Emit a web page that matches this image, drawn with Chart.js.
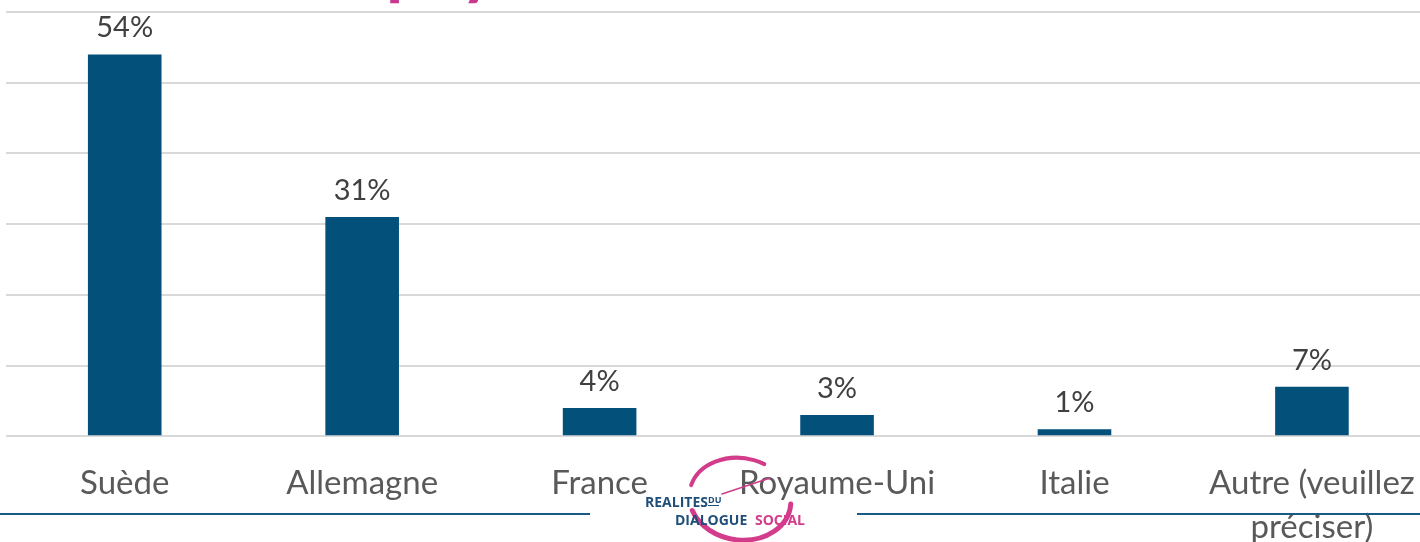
<!DOCTYPE html>
<html>
<head>
<meta charset="utf-8">
<script src="https://cdn.jsdelivr.net/npm/chart.js@4.4.1/dist/chart.umd.min.js"></script>
<style>
  html, body { margin: 0; padding: 0; background: #fff; overflow: hidden; }
  #wrap { width: 1420px; height: 542px; overflow: hidden; position: relative; }
  canvas { display: block; }
</style>
</head>
<body>
<div id="wrap"><canvas id="pays" width="1440" height="574"></canvas></div>
<script>
// donnees
const pays = ["Suède", "Allemagne", "France", "Royaume-Uni", "Italie", ["Autre (veuillez", "préciser)"]];
const pourcentages = [54, 31, 4, 3, 1, 7];
const ticksY = [0, 10, 20, 30, 40, 50, 60];

const bleu = "#03507A";
const rose = "#C9378E";

// etiquettes de valeur au dessus des barres
const etiquettes = {
  id: "etiquettes",
  afterDatasetsDraw(chart) {
    const ctx = chart.ctx;
    const meta = chart.getDatasetMeta(0);
    ctx.save();
    ctx.font = "29px Lato";
    ctx.fillStyle = "#404040";
    ctx.textAlign = "center";
    ctx.textBaseline = "alphabetic";
    meta.data.forEach(function(bar, i) {
      ctx.fillText(pourcentages[i] + "%", bar.x, bar.y - 17);
    });
    ctx.restore();
  }
};

// titre coupe en haut, ligne bleue et logo en bas
const decor = {
  id: "decor",
  afterDraw(chart) {
    const ctx = chart.ctx;
    ctx.save();
    // titre (seul le bas des lettres est visible)
    ctx.font = "bold 70px Lato";
    ctx.fillStyle = rose;
    ctx.textBaseline = "alphabetic";
    ctx.fillText("pays", 386, -9);

    // ligne bleue
    ctx.strokeStyle = "#1B5A86";
    ctx.lineWidth = 2;
    ctx.beginPath();
    ctx.moveTo(0, 514); ctx.lineTo(590, 514);
    ctx.moveTo(857, 514); ctx.lineTo(1440, 514);
    ctx.stroke();

    // logo
    ctx.strokeStyle = "#D23C8A";
    ctx.lineCap = "round";
    ctx.lineWidth = 4;
    ctx.beginPath();
    ctx.ellipse(740, 499, 51, 41, 0.15, Math.PI * 1.05, Math.PI * 1.62);
    ctx.stroke();
    ctx.lineWidth = 5;
    ctx.beginPath();
    ctx.ellipse(740, 499, 51, 41, 0.15, -Math.PI * 0.02, Math.PI * 0.85);
    ctx.stroke();
    ctx.lineWidth = 1.5;
    ctx.beginPath();
    ctx.moveTo(722, 494); ctx.lineTo(770, 478);
    ctx.stroke();

    ctx.fillStyle = "#1F4E79";
    ctx.font = "bold 14px 'Open Sans'";
    ctx.textAlign = "left";
    ctx.fillText("REALITES", 645, 507);
    ctx.font = "bold 9px 'Open Sans'";
    ctx.fillText("DU", 708, 503);
    ctx.fillRect(708, 505, 11, 1);
    ctx.font = "bold 14px 'Open Sans'";
    ctx.fillText("DIALOGUE", 675, 525);
    ctx.fillStyle = "#D23C8A";
    ctx.fillText("SOCIAL", 755, 525);
    ctx.restore();
  }
};

new Chart(document.getElementById("pays"), {
  type: "bar",
  data: {
    labels: pays,
    datasets: [{
      data: pourcentages,
      backgroundColor: bleu,
      borderWidth: 0,
      barPercentage: 0.62,
      categoryPercentage: 0.5
    }]
  },
  options: {
    responsive: false,
    animation: false,
    layout: { padding: { left: 6, right: 3, top: 12, bottom: 0 } },
    plugins: { legend: { display: false }, tooltip: { enabled: false } },
    scales: {
      x: {
        grid: { display: false, drawTicks: false },
        border: { display: false },
        ticks: {
          color: "#595959",
          font: { family: "Lato", size: 33, lineHeight: 1.33 },
          padding: 25,
          maxRotation: 0,
          autoSkip: false
        }
      },
      y: {
        min: 0,
        max: 60,
        afterBuildTicks: function(axis) {
          axis.ticks = ticksY.map(function(v) { return { value: v }; });
        },
        ticks: { display: false },
        border: { display: false },
        grid: { color: "#D9D9D9", lineWidth: 2, drawTicks: false }
      }
    }
  },
  plugins: [etiquettes, decor]
});
</script>
</body>
</html>
